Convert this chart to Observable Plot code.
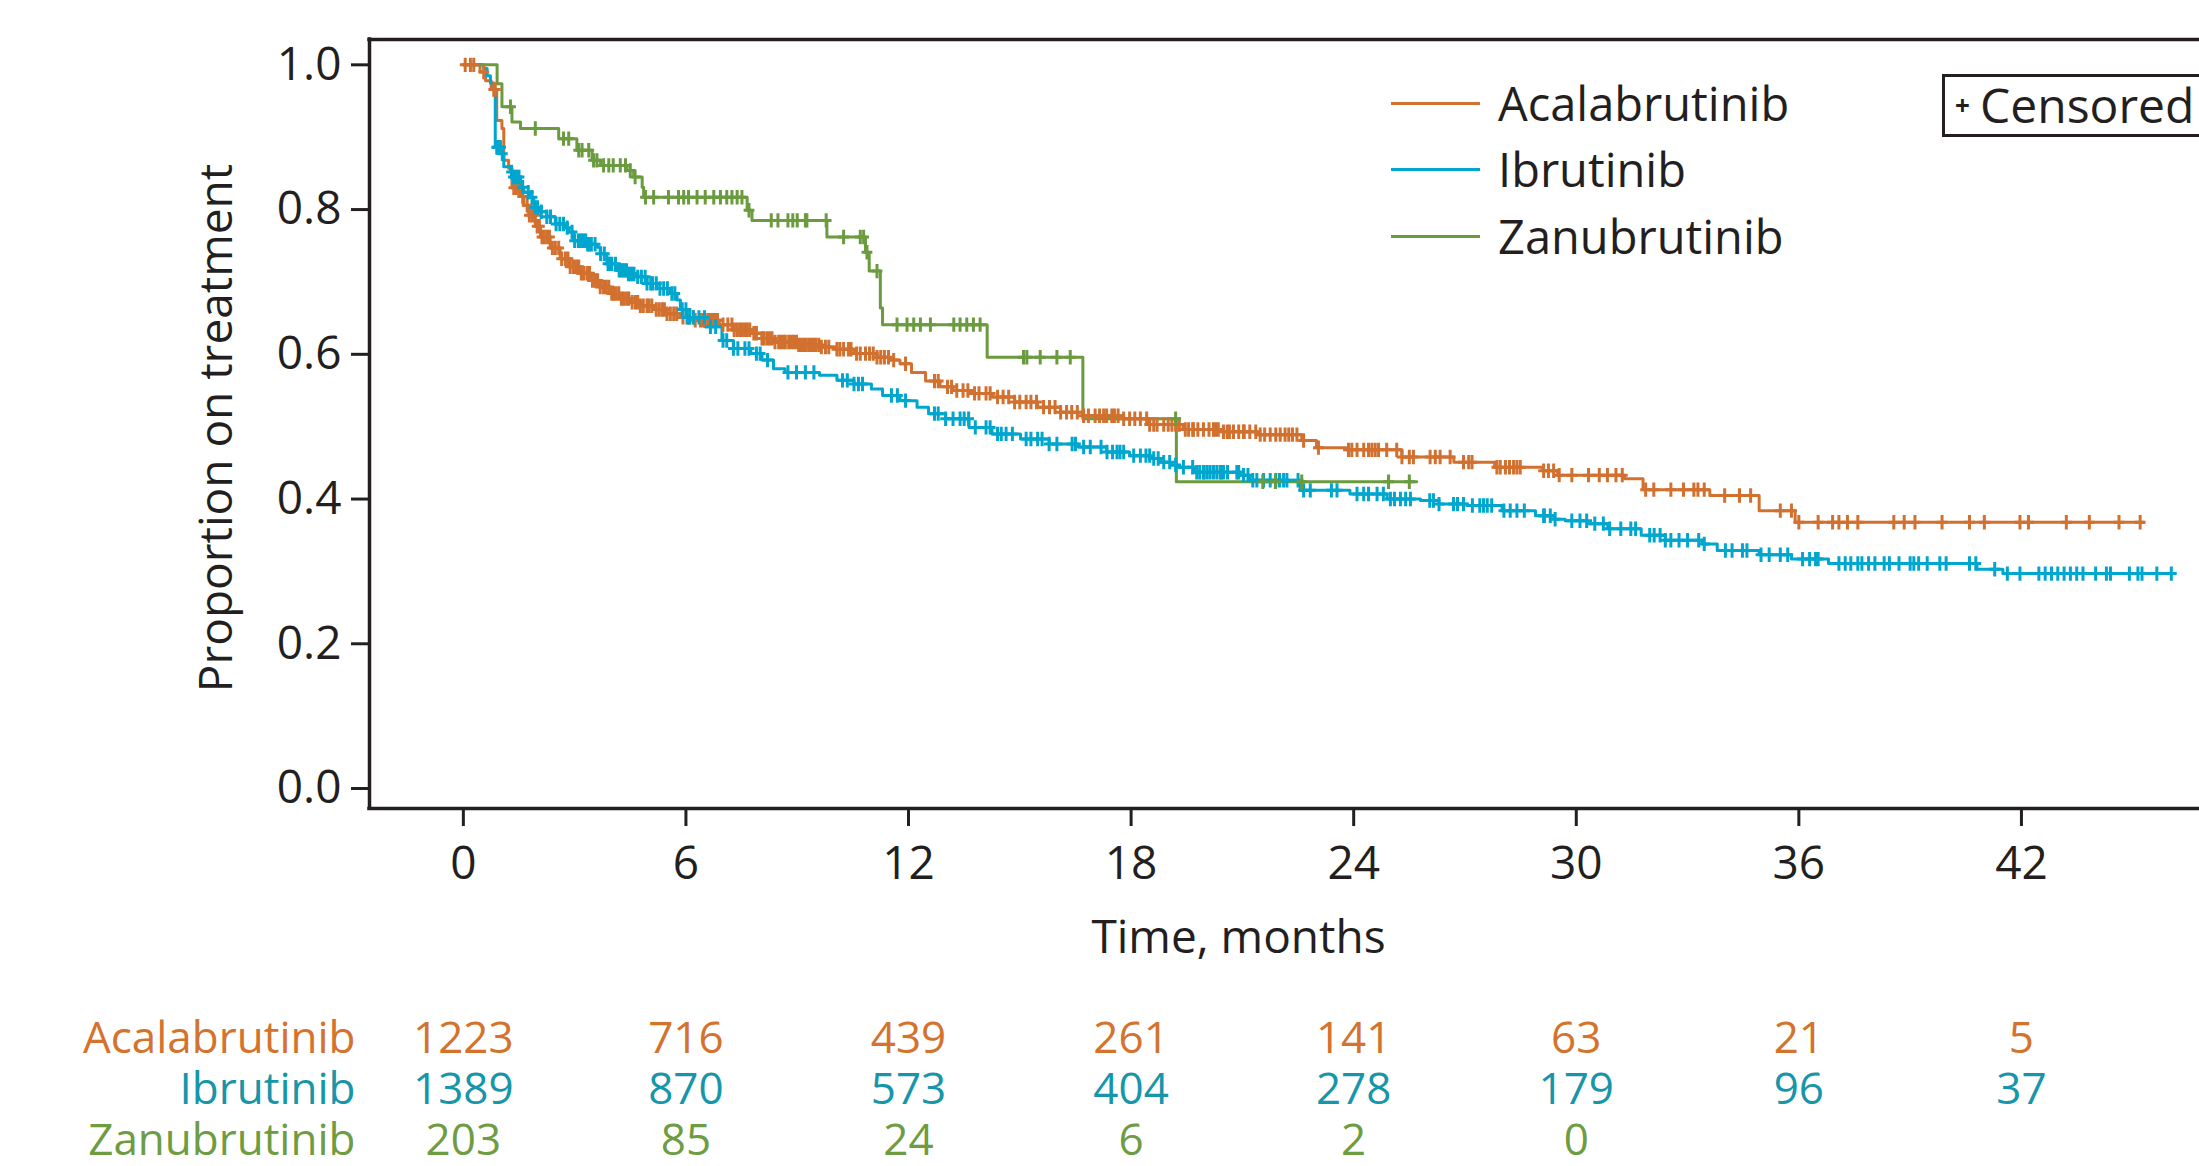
<!DOCTYPE html>
<html><head><meta charset="utf-8">
<script src="https://cdn.jsdelivr.net/npm/d3@7"></script>
<script src="https://cdn.jsdelivr.net/npm/@observablehq/plot@0.6"></script>
<style>
html,body{margin:0;padding:0;background:#fff;overflow:hidden;}
#wrap{position:relative;width:2199px;height:1166px;font-family:"Open Sans",sans-serif;color:#231f20;}
#wrap svg{display:block;}
.lg-line{position:absolute;height:3px;width:89px;left:1391px;}
.lg-text{position:absolute;left:1498px;font-size:47px;line-height:1;transform:translateY(-50%);white-space:nowrap;}
#censbox{position:absolute;left:1942px;top:74px;width:320px;height:57px;border:3px solid #231f20;}
#censbox .plus{position:absolute;left:10px;top:50%;transform:translateY(-54%);font-size:26px;font-weight:700;}
#censbox .lab{position:absolute;left:35px;top:50%;transform:translateY(-53%);font-size:48px;white-space:nowrap;}
</style></head><body><div id="wrap"></div>
<script>
// ---------------- data ----------------
const seriesNames = ["Acalabrutinib", "Ibrutinib", "Zanubrutinib"];
const lineColors = ["#D2702F", "#00A6CE", "#6A9B3E"];
const textColors = ["#D3732E", "#1796AA", "#6E9C43"];

const xTicks = [0, 6, 12, 18, 24, 30, 36, 42];
const yTicks = [0, 0.2, 0.4, 0.6, 0.8, 1.0];
const xDomain = [-2.53, 46.8];
const yDomain = [-0.0276, 1.035];

// Kaplan-Meier steps: [month, proportion after step]
const acalaSteps = [[0,1.0],[0.45,0.99],[0.6,0.978],[0.75,0.966],[0.9,0.923],[1.04,0.912],[1.09,0.868],[1.22,0.857],[1.31,0.83],[1.54,0.818],[1.63,0.806],[1.76,0.792],[1.94,0.777],[2.08,0.762],[2.34,0.747],[2.61,0.732],[2.88,0.721],[3.15,0.712],[3.42,0.702],[3.69,0.693],[3.96,0.684],[4.23,0.677],[4.5,0.672],[4.77,0.667],[5.13,0.662],[5.49,0.656],[5.85,0.651],[6.21,0.647],[6.9,0.641],[7.3,0.634],[7.74,0.629],[8.05,0.622],[8.36,0.617],[9.0,0.613],[9.6,0.61],[10.05,0.607],[10.53,0.601],[11.15,0.596],[11.5,0.592],[11.77,0.587],[12.08,0.575],[12.46,0.563],[12.85,0.555],[13.2,0.55],[13.63,0.546],[14.25,0.541],[14.86,0.534],[15.48,0.527],[16.1,0.52],[16.72,0.515],[17.8,0.511],[18.5,0.503],[19.4,0.496],[20.4,0.493],[21.4,0.489],[22.6,0.481],[23.0,0.471],[23.8,0.468],[25.3,0.458],[26.7,0.451],[27.8,0.444],[29.1,0.439],[29.5,0.433],[31.3,0.428],[31.8,0.413],[33.6,0.405],[34.93,0.384],[35.9,0.368],[45.3,0.368]];
const ibruSteps = [[0,1.0],[0.55,0.995],[0.64,0.985],[0.73,0.975],[0.82,0.965],[0.86,0.886],[1.04,0.877],[1.09,0.859],[1.27,0.852],[1.31,0.845],[1.54,0.831],[1.63,0.824],[1.81,0.817],[1.9,0.803],[2.03,0.797],[2.25,0.79],[2.48,0.78],[2.75,0.775],[2.84,0.769],[2.97,0.757],[3.33,0.752],[3.6,0.748],[3.69,0.739],[3.87,0.725],[4.14,0.716],[4.41,0.711],[4.68,0.707],[4.95,0.698],[5.22,0.691],[5.58,0.684],[5.76,0.675],[5.85,0.662],[6.03,0.651],[6.51,0.638],[6.97,0.619],[7.28,0.608],[7.75,0.601],[8.05,0.592],[8.36,0.58],[8.67,0.575],[9.6,0.571],[10.07,0.564],[10.53,0.559],[11.0,0.552],[11.3,0.543],[11.77,0.536],[12.23,0.527],[12.54,0.518],[13.0,0.511],[13.63,0.499],[14.25,0.49],[15.02,0.483],[15.79,0.476],[16.57,0.472],[17.34,0.465],[17.96,0.46],[18.52,0.456],[18.79,0.451],[19.06,0.447],[19.24,0.444],[19.7,0.437],[20.94,0.433],[21.2,0.426],[22.56,0.412],[23.9,0.407],[24.9,0.4],[25.8,0.398],[26.3,0.393],[27.05,0.391],[28.0,0.384],[28.9,0.377],[29.4,0.372],[29.7,0.37],[30.3,0.366],[30.85,0.359],[31.75,0.35],[32.4,0.343],[33.4,0.338],[33.8,0.329],[34.93,0.323],[35.8,0.317],[36.8,0.311],[40.8,0.303],[41.5,0.297],[46.1,0.297]];
const zanuSteps = [[0,1.0],[0.91,0.974],[1.04,0.942],[1.31,0.921],[1.54,0.912],[2.57,0.898],[3.06,0.882],[3.47,0.868],[3.7,0.861],[4.41,0.854],[4.59,0.845],[4.82,0.831],[4.86,0.817],[7.65,0.799],[7.78,0.785],[9.8,0.762],[10.84,0.741],[10.94,0.715],[11.24,0.664],[11.3,0.641],[14.12,0.596],[16.7,0.511],[19.22,0.424],[25.7,0.424]];

// censoring times (months)
const acalaCensored = [0.05,0.19,0.28,0.55,0.82,0.86,1.36,1.43,1.5,1.6,1.72,1.78,1.85,1.92,1.99,2.05,2.12,2.18,2.25,2.32,2.4,2.48,2.57,2.65,2.75,2.82,2.88,2.97,3.05,3.11,3.18,3.24,3.33,3.4,3.48,3.56,3.62,3.69,3.78,3.85,3.92,4.0,4.05,4.12,4.19,4.26,4.32,4.4,4.46,4.55,4.64,4.7,4.77,4.85,4.95,5.0,5.08,5.2,5.28,5.36,5.42,5.49,5.58,5.67,5.75,5.92,6.03,6.1,6.2,6.25,6.39,6.45,6.52,6.6,6.66,6.72,6.79,6.85,7.0,7.13,7.24,7.3,7.38,7.45,7.51,7.58,7.65,7.72,7.83,7.9,8.05,8.1,8.18,8.25,8.32,8.4,8.5,8.56,8.63,8.68,8.77,8.84,8.9,8.98,9.04,9.1,9.17,9.24,9.31,9.38,9.44,9.5,9.58,9.65,9.76,9.85,10.07,10.15,10.25,10.38,10.45,10.6,10.7,10.84,10.95,11.05,11.15,11.25,11.35,11.46,11.6,11.92,12.7,12.8,13.05,13.16,13.3,13.47,13.6,13.78,13.9,14.09,14.2,14.4,14.55,14.7,14.86,15.0,15.17,15.3,15.45,15.64,15.8,15.95,16.1,16.26,16.4,16.55,16.72,16.85,17.03,17.15,17.26,17.34,17.48,17.55,17.65,17.8,17.96,18.1,18.25,18.42,18.5,18.61,18.7,18.88,19.0,19.1,19.2,19.3,19.46,19.55,19.66,19.68,19.8,19.95,20.1,20.22,20.28,20.35,20.49,20.59,20.65,20.76,20.9,21.03,21.05,21.2,21.36,21.48,21.6,21.75,21.9,22.02,22.15,22.25,22.35,22.47,22.65,23.05,23.86,23.95,24.09,24.27,24.4,24.49,24.58,24.67,24.89,25.16,25.3,25.5,25.61,26.06,26.2,26.33,26.6,26.96,27.1,27.19,27.86,27.95,28.09,28.2,28.31,28.4,28.49,29.12,29.25,29.39,29.54,29.88,30.33,30.62,30.84,31.07,31.24,31.87,32.09,32.55,32.89,33.17,33.28,33.45,34.0,34.4,34.7,35.5,35.8,36.0,36.52,36.91,37.08,37.31,37.59,38.56,38.84,39.13,39.86,40.6,41.0,41.96,42.19,43.21,43.83,44.63,45.2];
const ibruCensored = [0.9,0.92,0.95,0.98,1.0,1.05,1.3,1.35,1.4,1.45,1.5,1.6,1.75,1.85,1.93,2.0,2.1,2.25,2.35,2.5,2.6,2.7,2.8,2.93,3.0,3.1,3.15,3.2,3.25,3.3,3.35,3.4,3.45,3.55,3.7,3.8,3.9,3.95,4.0,4.1,4.2,4.25,4.3,4.35,4.4,4.45,4.5,4.55,4.6,4.7,4.8,4.9,4.95,5.05,5.1,5.2,5.3,5.4,5.5,5.62,5.7,5.9,6.0,6.04,6.1,6.2,6.35,6.5,6.66,6.8,7.0,7.1,7.28,7.4,7.59,7.7,7.9,8.0,8.2,8.75,8.98,9.22,9.45,10.22,10.35,10.53,10.65,10.76,11.54,11.7,11.92,12.7,12.8,13.0,13.2,13.39,13.5,13.62,13.8,14.09,14.2,14.4,14.5,14.63,14.8,15.17,15.3,15.48,15.6,15.79,16.0,16.41,16.5,16.72,16.9,17.19,17.35,17.5,17.62,17.7,17.8,18.07,18.25,18.4,18.5,18.61,18.73,18.88,19.04,19.2,19.41,19.66,19.77,19.85,19.95,19.97,20.05,20.13,20.22,20.31,20.4,20.43,20.49,20.6,20.85,20.9,21.03,21.15,21.28,21.39,21.57,21.75,21.9,22.0,22.11,22.2,22.5,22.65,22.83,23.4,23.55,24.09,24.27,24.4,24.63,24.8,24.99,25.1,25.26,25.4,25.53,26.05,26.15,26.3,26.69,26.8,26.96,27.2,27.4,27.5,27.6,27.72,28.05,28.22,28.4,28.6,29.12,29.14,29.3,29.43,29.88,30.1,30.28,30.5,30.73,30.9,31.2,31.47,31.6,31.98,32.1,32.26,32.4,32.55,32.77,33.0,33.3,33.45,34.02,34.2,34.48,34.6,34.98,35.2,35.5,35.7,36.1,36.29,36.45,36.52,37.08,37.25,37.4,37.59,37.7,37.88,38.05,38.3,38.44,38.7,39.0,39.1,39.23,39.46,39.8,39.97,40.6,40.77,41.28,41.62,41.96,42.47,42.64,42.81,42.98,43.15,43.32,43.49,43.66,44.0,44.29,44.4,44.91,45.14,45.25,45.65,46.04];
const zanuCensored = [1.27,1.94,2.7,2.84,3.11,3.2,3.38,3.51,3.6,3.78,3.92,4.04,4.23,4.37,4.5,4.63,4.91,5.13,5.53,5.8,5.94,6.07,6.3,6.52,6.75,6.93,7.1,7.24,7.38,7.51,7.7,8.3,8.48,8.75,8.88,9.0,9.22,9.26,9.78,10.25,10.7,10.79,10.88,11.15,11.69,11.96,12.14,12.32,12.59,13.22,13.39,13.57,13.75,13.93,15.1,15.19,15.55,16.0,16.36,19.2,21.55,21.89,22.6,24.94,25.5];

// numbers at risk at xTicks
const acalaRisk = [1223, 716, 439, 261, 141, 63, 21, 5];
const ibruRisk = [1389, 870, 573, 404, 278, 179, 96, 37];
const zanuRisk = [203, 85, 24, 6, 2, 0];

// -------------- build tables --------------
const stepsBy = [acalaSteps, ibruSteps, zanuSteps];
const censBy = [acalaCensored, ibruCensored, zanuCensored];
const riskBy = [acalaRisk, ibruRisk, zanuRisk];
const lineData = [], censData = [], riskData = [];
seriesNames.forEach((s, i) => {
  stepsBy[i].forEach(([t, v]) => lineData.push({series: s, t, v}));
  censBy[i].forEach(t => {
    let v = stepsBy[i][0][1];
    for (const [st, sv] of stepsBy[i]) { if (st <= t) v = sv; else break; }
    censData.push({series: s, t, v});
  });
  riskBy[i].forEach((n, k) => riskData.push({series: s, t: xTicks[k], n: String(n)}));
});

const censorSymbol = {
  draw(ctx, size) {
    const r = Math.sqrt(size / Math.PI);
    ctx.moveTo(0, -r * 1.2); ctx.lineTo(0, r * 1.2);
    ctx.moveTo(-r * 0.9, 0); ctx.lineTo(r * 0.9, 0);
  }
};

const ink = "#231f20";
const W = 2199;

const main = Plot.plot({
  width: W, height: 990,
  marginLeft: 369, marginRight: 0, marginTop: 39, marginBottom: 182,
  style: {fontFamily: "'Open Sans', sans-serif", fontSize: "46px", color: ink, background: "white", overflow: "visible"},
  x: {domain: xDomain},
  y: {domain: yDomain},
  color: {domain: seriesNames, range: lineColors},
  marks: [
    Plot.line(lineData, {x: "t", y: "v", z: "series", stroke: "series", curve: "step-after", strokeWidth: 3}),
    Plot.dot(censData, {x: "t", y: "v", stroke: "series", fill: "none", symbol: censorSymbol, r: 6, strokeWidth: 3}),
    Plot.ruleY([yDomain[0], yDomain[1]], {stroke: ink, strokeWidth: 3.5, strokeLinecap: "square"}),
    Plot.ruleX([xDomain[0]], {stroke: ink, strokeWidth: 3.5, strokeLinecap: "square"}),
    Plot.axisY(yTicks, {tickFormat: d3.format(".1f"), tickSize: 18, tickPadding: 10, label: null, strokeWidth: 3, fill: ink, stroke: ink}),
    Plot.axisX(xTicks, {tickFormat: d3.format("d"), tickSize: 18, tickPadding: 20, label: null, strokeWidth: 3, fill: ink, stroke: ink}),
    Plot.text(["Proportion on treatment"], {frameAnchor: "left", textAnchor: "middle", lineAnchor: "middle", rotate: -90, dx: -152, dy: 4, fontSize: 46, fill: ink}),
    Plot.text(["Time, months"], {frameAnchor: "bottom", textAnchor: "middle", lineAnchor: "middle", dx: -46, dy: 130, fontSize: 46, fill: ink})
  ]
});

const risk = Plot.plot({
  width: W, height: 176,
  marginLeft: 369, marginRight: 0, marginTop: 48, marginBottom: 26,
  style: {fontFamily: "'Open Sans', sans-serif", fontSize: "44px", background: "white", overflow: "visible"},
  x: {domain: xDomain, axis: null},
  y: {type: "point", domain: seriesNames, padding: 0, axis: null},
  color: {domain: seriesNames, range: textColors},
  marks: [
    Plot.text(riskData, {x: "t", y: "series", text: "n", fill: "series", fontSize: 44}),
    Plot.text(seriesNames, {y: d => d, frameAnchor: "left", dx: -14, textAnchor: "end", text: d => d, fill: d => d, fontSize: 44})
  ]
});

const wrap = document.getElementById("wrap");
wrap.appendChild(main);
wrap.appendChild(risk);

// legend
const lgY = [103, 169, 236];
seriesNames.forEach((s, i) => {
  const ln = document.createElement("div");
  ln.className = "lg-line";
  ln.style.top = (lgY[i] - 1.5) + "px";
  ln.style.background = lineColors[i];
  wrap.appendChild(ln);
  const tx = document.createElement("div");
  tx.className = "lg-text";
  tx.style.top = lgY[i] + "px";
  tx.textContent = s;
  wrap.appendChild(tx);
});
const box = document.createElement("div");
box.id = "censbox";
box.innerHTML = '<span class="plus">+</span><span class="lab">Censored</span>';
wrap.appendChild(box);
</script></body></html>
